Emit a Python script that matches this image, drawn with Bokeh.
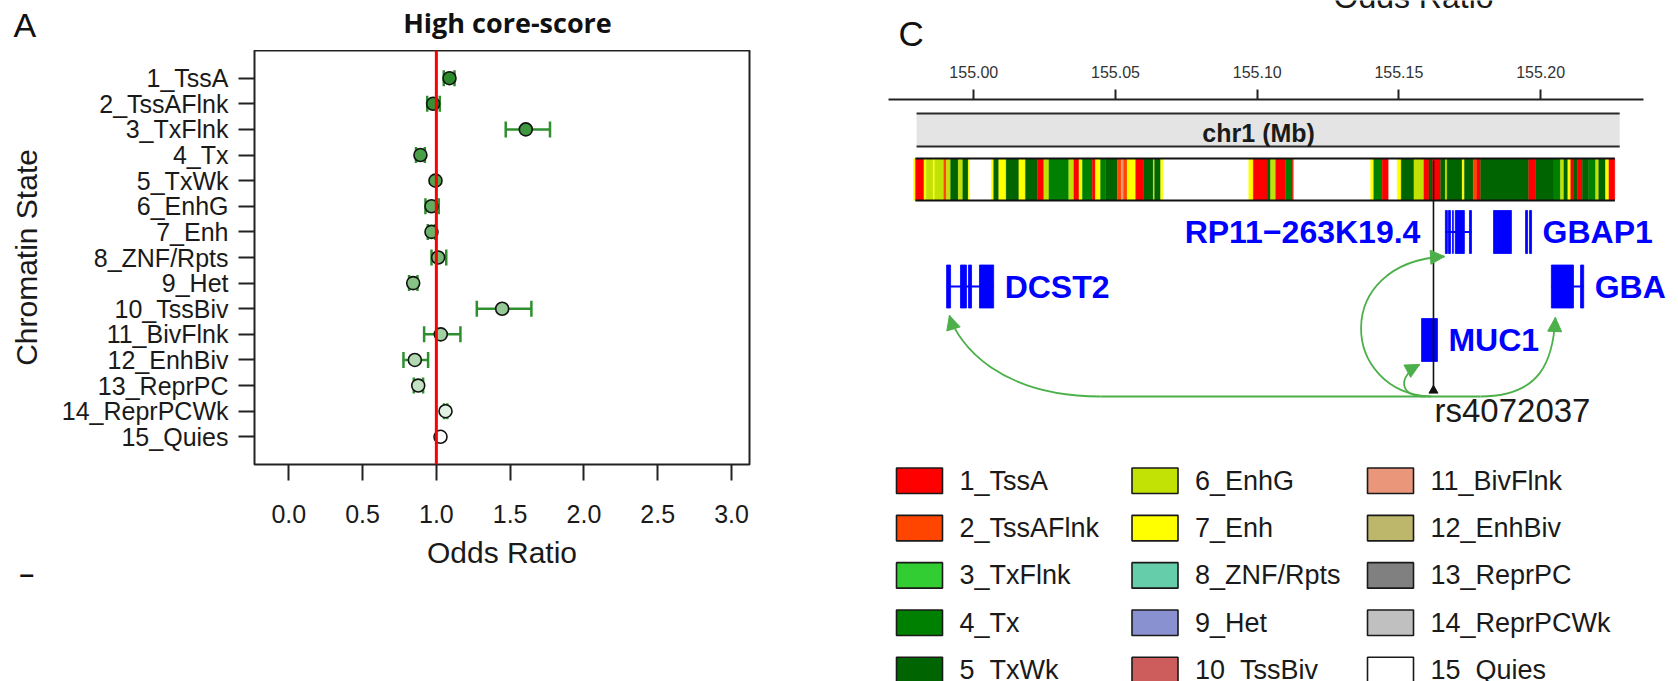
from bokeh.plotting import figure
from bokeh.models import (ColumnDataSource, Range1d, FixedTicker, LinearAxis, Span,
                          Whisker, TeeHead, Arrow, NormalHead, NumeralTickFormatter)
from bokeh.layouts import row, column
from bokeh.embed import file_html
from bokeh.resources import INLINE
from bokeh.core.properties import value

# ------------------------------------------------------------------ data
STATES = ["1_TssA", "2_TssAFlnk", "3_TxFlnk", "4_Tx", "5_TxWk", "6_EnhG", "7_Enh",
          "8_ZNF/Rpts", "9_Het", "10_TssBiv", "11_BivFlnk", "12_EnhBiv", "13_ReprPC",
          "14_ReprPCWk", "15_Quies"]
STATE_COLORS = ["#FF0000", "#FF4500", "#32CD32", "#008000", "#006400", "#C2E105", "#FFFF00",
                "#66CDAA", "#8A91D0", "#CD5C5C", "#E9967A", "#BDB76B", "#808080", "#C0C0C0",
                "#FFFFFF"]

# Panel A: odds ratios and 95% CI per chromatin state
ODDS = [1.089, 0.978, 1.606, 0.892, 0.994, 0.967, 0.967, 1.012, 0.843, 1.446, 1.030, 0.854,
        0.877, 1.062, 1.028]
CI_LOW = [1.050, 0.938, 1.470, 0.862, 0.989, 0.926, 0.942, 0.967, 0.815, 1.274, 0.917, 0.777,
          0.847, 1.052, 1.024]
CI_HIGH = [1.123, 1.023, 1.770, 0.922, 0.999, 1.016, 0.992, 1.067, 0.872, 1.644, 1.163, 0.944,
           0.910, 1.074, 1.032]
POINT_FILL = ["#2a8a2a", "#349134", "#3e983e", "#489f48", "#52a652", "#5fad5f", "#6cb46c",
              "#79bb79", "#87c287", "#95c995", "#a3d0a3", "#b1d8b1", "#c4e1c4", "#e2f1e2",
              "#ffffff"]
OR_TICKS = [0.0, 0.5, 1.0, 1.5, 2.0, 2.5, 3.0]

# Panel C: genomic region chr1 (Mb)
GENOME_TICKS = [155.00, 155.05, 155.10, 155.15, 155.20]
SEG_BOUNDS = [154.9787, 154.9794, 154.9824, 154.9832, 154.9856, 154.9862, 154.9894, 154.9903,
              154.9918, 154.9945, 154.9961, 154.9980, 154.9986, 155.0062, 155.0070, 155.0088,
              155.0114, 155.0159, 155.0182, 155.0224, 155.0247, 155.0265, 155.0335, 155.0353,
              155.0371, 155.0383, 155.0418, 155.0429, 155.0447, 155.0465, 155.0506, 155.0520,
              155.0528, 155.0541, 155.0571, 155.0600, 155.0633, 155.0638, 155.0659, 155.0668,
              155.0970, 155.0986, 155.1035, 155.1047, 155.1065, 155.1100, 155.1124, 155.1129,
              155.1400, 155.1411, 155.1441, 155.1464, 155.1494, 155.1508, 155.1553, 155.1588,
              155.1606, 155.1618, 155.1647, 155.1664, 155.1670, 155.1723, 155.1731, 155.1762,
              155.1775, 155.1788, 155.1958, 155.1982, 155.2047, 155.2070, 155.2082, 155.2096,
              155.2106, 155.2115, 155.2129, 155.2147, 155.2170, 155.2194, 155.2205, 155.2229,
              155.2241, 155.2262]
SEG_STATE = [7, 1, 7, 6, 7, 6, 2, 6, 5, 6, 5, 7, 15, 7, 5, 7, 5, 7, 5, 1, 6, 4, 6, 1, 7, 4, 1,
             7, 4, 5, 2, 11, 2, 7, 1, 5, 6, 5, 7, 15, 7, 1, 5, 6, 1, 4, 1, 15, 7, 4, 1, 15, 7,
             5, 6, 1, 5, 1, 5, 6, 5, 7, 5, 2, 1, 5, 1, 5, 4, 6, 5, 7, 1, 5, 1, 5, 4, 6, 5, 7, 1]

GENE_NAMES = ["RP11\u2212263K19.4", "GBAP1", "DCST2", "GBA", "MUC1"]
GENE_ROW = [0, 0, 1, 1, 2]
GENE_EXONS = [
    [(155.1664, 155.1671), (155.1675, 155.1682), (155.1689, 155.1692), (155.1699, 155.1731),
     (155.1749, 155.1756)],
    [(155.1834, 155.1897), (155.1947, 155.1954), (155.1961, 155.1968)],
    [(154.9904, 154.9918), (154.9953, 154.9974), (154.9981, 154.9992), (155.0020, 155.0070)],
    [(155.2038, 155.2116), (155.2141, 155.2152)],
    [(155.1580, 155.1636)],
]
GENE_INTRON = [True, False, True, True, False]
GENE_LABEL_SIDE = ["left", "right", "right", "right", "right"]

SNP_NAME = "rs4072037"
SNP_POS = 155.1622

# chromatin-interaction links from the SNP (start, control0, control1, end) in (Mb, track px)
LINKS = [
    [(155.0447, 297), (155.0094, 297), (154.9946, 246), (154.9914, 216)],   # -> DCST2
    [(155.1612, 297), (155.1294, 293), (155.1259, 163), (155.1661, 157)],   # -> RP11
    [(155.1594, 297), (155.1499, 297), (155.1495, 277), (155.1573, 265)],   # -> MUC1
    [(155.1788, 297), (155.2000, 297), (155.2045, 261), (155.2052, 218)],   # -> GBA
]
LINK_BASE = (155.0447, 155.1788, 297)

# ------------------------------------------------------------------ styling
FONT = "Liberation Sans"
TXT = "#1a1a1a"
GREEN_ERR = "#2f8f2f"
LINK_GREEN = "#4cb04a"
GENE_BLUE = "#0000ff"

A_X0, A_X1 = -0.2324, 3.1219          # panel A frame x-range
A_PX = 495 / (A_X1 - A_X0)             # px per odds-ratio unit


def strip(width, x_range):
    s = figure(width=width, height=50, output_backend="svg", toolbar_location=None,
               title=None, x_range=x_range, y_range=Range1d(50, 0), x_axis_location=None,
               y_axis_location=None, min_border=0, frame_align=False)
    s.outline_line_color = None
    s.grid.visible = False
    return s


# ------------------------------------------------------------------ Panel A
n = len(STATES)
ypos = [n + 1 - (i + 1) for i in range(n)]

topA = strip(868, Range1d(A_X0 - 254 / A_PX, A_X1 + 119 / A_PX))
topA.text(x=[A_X0 - 241 / A_PX], y=[24.5], text=["A"], text_align="left",
          text_baseline="middle", text_font=value(FONT), text_font_size="34px",
          text_color="#111111")
topA.text(x=[(A_X0 + A_X1) / 2 + 5.5 / A_PX], y=[22], text=["High core-score"],
          text_align="center", text_baseline="middle", text_font=value("Open Sans"),
          text_font_style="bold", text_font_size="27px", text_color="#111111")

pA = figure(width=868, height=631, output_backend="svg", toolbar_location=None,
            x_range=Range1d(A_X0, A_X1), y_range=Range1d(-0.081, 16.081),
            min_border_left=254, min_border_right=119, min_border_top=0,
            min_border_bottom=217, frame_align=False)
pA.grid.visible = False
pA.outline_line_color = "#222222"
pA.outline_line_width = 2

pA.xaxis.ticker = FixedTicker(ticks=OR_TICKS)
pA.xaxis.formatter = NumeralTickFormatter(format="0.0")
pA.yaxis.ticker = FixedTicker(ticks=ypos)
pA.yaxis.major_label_overrides = {y: s for y, s in zip(ypos, STATES)}
for ax in (pA.xaxis[0], pA.yaxis[0]):
    ax.axis_line_color = None
    ax.major_tick_out = 16
    ax.major_tick_in = 0
    ax.minor_tick_out = 0
    ax.minor_tick_in = 0
    ax.major_tick_line_color = "#222222"
    ax.major_tick_line_width = 2
    ax.major_label_text_font = FONT
    ax.major_label_text_font_size = "25px"
    ax.major_label_text_color = TXT
    ax.axis_label_text_font = FONT
    ax.axis_label_text_font_size = "30px"
    ax.axis_label_text_font_style = "normal"
    ax.axis_label_text_color = TXT
pA.xaxis.axis_label = "Odds Ratio"
pA.xaxis.major_label_standoff = 24
pA.xaxis.axis_label_standoff = 10
pA.yaxis.axis_label = "Chromatin State"
pA.yaxis.major_label_standoff = 10
pA.yaxis.axis_label_standoff = 16

pA.title.text = "\u2013"
pA.title_location = "below"
pA.title.align = "left"
pA.title.offset = -235
pA.title.standoff = -26
pA.title.vertical_align = "top"
pA.title.text_font = FONT
pA.title.text_font_size = "26px"
pA.title.text_font_style = "bold"
pA.title.text_color = "#111111"

pA.add_layout(Span(location=1.0, dimension="height", line_color="#ff0000", line_width=3))

wl = [i for i in range(n) if CI_HIGH[i] - CI_LOW[i] > 0.012]
wsrc = ColumnDataSource(dict(base=[ypos[i] for i in wl], lower=[CI_LOW[i] for i in wl],
                             upper=[CI_HIGH[i] for i in wl]))
pA.add_layout(Whisker(base="base", lower="lower", upper="upper", dimension="width",
                      source=wsrc, line_color=GREEN_ERR, line_width=2.5,
                      upper_head=TeeHead(size=16, line_color=GREEN_ERR, line_width=2.5),
                      lower_head=TeeHead(size=16, line_color=GREEN_ERR, line_width=2.5)))
psrc = ColumnDataSource(dict(x=ODDS, y=ypos, fill=POINT_FILL))
pA.scatter("x", "y", source=psrc, size=13, fill_color="fill", line_color="#111111",
           line_width=1.6)

# ------------------------------------------------------------------ Panel C
XC0, XC1 = 154.96284, 155.24866
topC = strip(810, Range1d(XC0, XC1))
topC.text(x=[XC0 + 30 / 2834], y=[33], text=["C"], text_align="left",
          text_baseline="middle", text_font=value(FONT), text_font_size="35px",
          text_color="#111111")
topC.text(x=[XC0 + 465 / 2834], y=[-4], text=["Odds Ratio"], text_align="left",
          text_baseline="middle", text_font=value(FONT), text_font_size="32px",
          text_color=TXT)

pC = figure(width=810, height=390, output_backend="svg", toolbar_location=None,
            x_range=Range1d(XC0, XC1), y_range=Range1d(341, 0),
            x_axis_location=None, y_axis_location=None, frame_align=False,
            min_border_left=0, min_border_right=0, min_border_top=49, min_border_bottom=0)
pC.outline_line_color = None
pC.grid.visible = False
gax = LinearAxis(ticker=FixedTicker(ticks=GENOME_TICKS),
                 formatter=NumeralTickFormatter(format="0.00"), bounds=(154.9699, 155.2363))
gax.major_tick_out = 10
gax.major_tick_in = 0
gax.minor_tick_out = 0
gax.minor_tick_in = 0
gax.axis_line_width = 2
gax.axis_line_color = "#222222"
gax.major_tick_line_width = 2
gax.major_tick_line_color = "#222222"
gax.major_label_text_font = FONT
gax.major_label_text_font_size = "16px"
gax.major_label_text_color = "#333333"
gax.major_label_standoff = 12
pC.add_layout(gax, "above")

# chromosome title box
box_l, box_r = 154.9798, 155.2279
pC.quad(left=[box_l], right=[box_r], top=[14], bottom=[47], fill_color="#e4e4e4",
        line_color=None)
pC.segment(x0=[box_l, box_l], x1=[box_r, box_r], y0=[14, 47], y1=[14, 47],
           line_color="#2a2a2a", line_width=2)
pC.text(x=[155.1005], y=[33], text=["chr1 (Mb)"], text_align="center",
        text_baseline="middle", text_font=value(FONT), text_font_style="bold",
        text_font_size="25px", text_color=TXT)

# chromatin state bar
seg_src = ColumnDataSource(dict(left=SEG_BOUNDS[:-1], right=SEG_BOUNDS[1:],
                                color=[STATE_COLORS[s - 1] for s in SEG_STATE]))
pC.quad(left="left", right="right", top=59, bottom=101, fill_color="color",
        line_color="color", line_width=0.3, source=seg_src)
pC.segment(x0=[SEG_BOUNDS[1]] * 2, x1=[SEG_BOUNDS[-1]] * 2, y0=[59, 101], y1=[59, 101],
           line_color="#111111", line_width=2)

# genes
ROW_CENTER = [132.5, 187, 240.5]
GENE_H = 43
ex_l, ex_r, ex_y = [], [], []
in_x0, in_x1, in_y = [], [], []
lab_x, lab_y, lab_t, lab_al, lab_off = [], [], [], [], []
for name, r, exons, intr, side in zip(GENE_NAMES, GENE_ROW, GENE_EXONS, GENE_INTRON,
                                      GENE_LABEL_SIDE):
    yc = ROW_CENTER[r]
    for a, b in exons:
        ex_l.append(a)
        ex_r.append(b)
        ex_y.append(yc)
    if intr:
        in_x0.append(exons[0][0])
        in_x1.append(exons[-1][1])
        in_y.append(yc)
    if side == "left":
        lab_x.append(exons[0][0])
        lab_al.append("right")
        lab_off.append(-25)
    else:
        lab_x.append(exons[-1][1])
        lab_al.append("left")
        lab_off.append(11)
    lab_y.append(yc)
    lab_t.append(name)

pC.segment(x0=in_x0, x1=in_x1, y0=in_y, y1=in_y, line_color=GENE_BLUE, line_width=2)
pC.quad(left=ex_l, right=ex_r, top=[y - GENE_H / 2 for y in ex_y],
        bottom=[y + GENE_H / 2 for y in ex_y], fill_color=GENE_BLUE, line_color=GENE_BLUE,
        line_width=0.8)
lab_src = ColumnDataSource(dict(x=lab_x, y=lab_y, t=lab_t, al=lab_al, off=lab_off))
pC.text(x="x", y="y", text="t", text_align="al", x_offset="off", source=lab_src,
        text_baseline="middle", text_font=value(FONT), text_font_style="bold",
        text_font_size="32px", text_color=GENE_BLUE)

# links
pC.segment(x0=[LINK_BASE[0]], x1=[LINK_BASE[1]], y0=[LINK_BASE[2]], y1=[LINK_BASE[2]],
           line_color=LINK_GREEN, line_width=1.8)
pC.bezier(x0=[l[0][0] for l in LINKS], y0=[l[0][1] for l in LINKS],
          cx0=[l[1][0] for l in LINKS], cy0=[l[1][1] for l in LINKS],
          cx1=[l[2][0] for l in LINKS], cy1=[l[2][1] for l in LINKS],
          x1=[l[3][0] for l in LINKS], y1=[l[3][1] for l in LINKS],
          line_color=LINK_GREEN, line_width=1.8)
arr_src = ColumnDataSource(dict(
    xs=[l[3][0] - 0.12 * (l[3][0] - l[2][0]) for l in LINKS],
    ys=[l[3][1] - 0.12 * (l[3][1] - l[2][1]) for l in LINKS],
    xe=[l[3][0] for l in LINKS], ye=[l[3][1] for l in LINKS]))
pC.add_layout(Arrow(x_start="xs", y_start="ys", x_end="xe", y_end="ye", source=arr_src,
                    line_alpha=0, end=NormalHead(size=14, fill_color=LINK_GREEN,
                                                 line_color=LINK_GREEN, line_width=1)))

# SNP marker
pC.segment(x0=[SNP_POS], x1=[SNP_POS], y0=[61], y1=[292], line_color="#111111",
           line_width=1.6)
pC.scatter(x=[SNP_POS], y=[291], marker="triangle", size=9, fill_color="#111111",
           line_color="#111111")
pC.text(x=[SNP_POS], y=[311], text=[SNP_NAME], x_offset=1, text_align="left",
        text_baseline="middle", text_font=value(FONT), text_font_size="33px",
        text_color=TXT)

# ------------------------------------------------------------------ legend
leg_col = [i // 5 for i in range(n)]
leg_row = [i % 5 for i in range(n)]
pL = figure(width=810, height=241, output_backend="svg", toolbar_location=None,
            x_range=Range1d(-0.21656, 3.2229), y_range=Range1d(4.243, -0.852),
            x_axis_location=None, y_axis_location=None, min_border=0, frame_align=False)
pL.outline_line_color = None
pL.grid.visible = False
pL.rect(x=leg_col, y=leg_row, width=0.1953, height=0.539, fill_color=STATE_COLORS,
        line_color="#1a1a1a", line_width=1.6)
pL.text(x=[c + 0.1698 for c in leg_col], y=leg_row, text=STATES, text_align="left",
        text_baseline="middle", text_font=value(FONT), text_font_size="27px",
        text_color=TXT)

layout = row(column(topA, pA), column(topC, pC, pL))
open("out.html", "w").write(file_html(layout, INLINE))
